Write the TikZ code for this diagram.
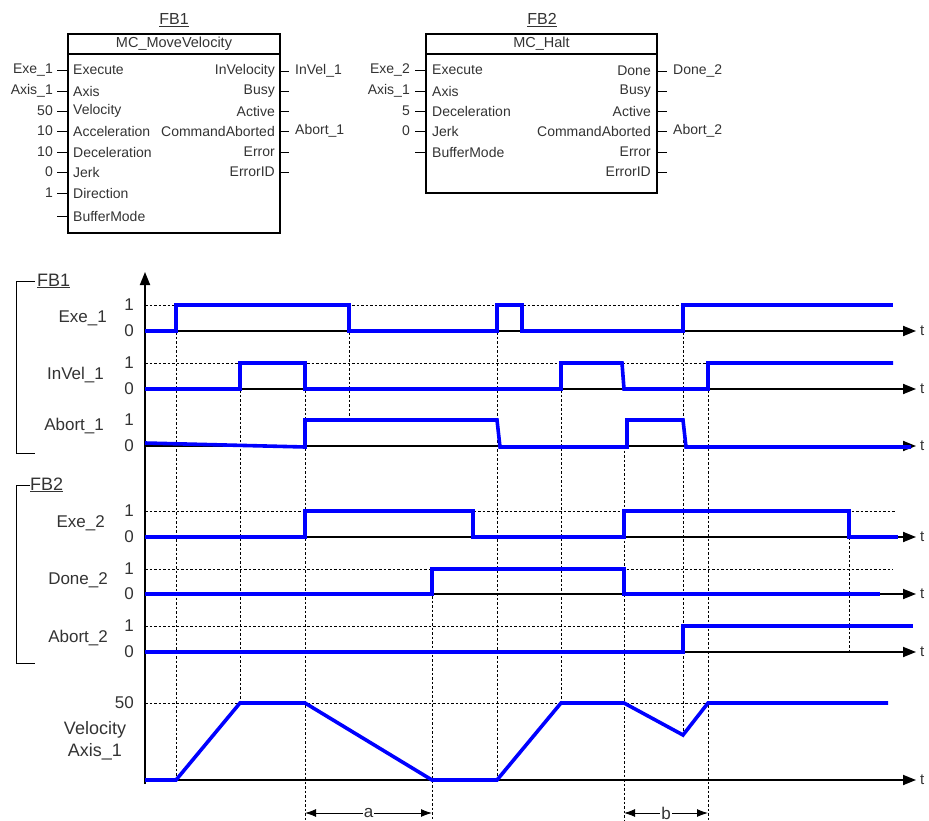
\documentclass[tikz,border=0pt]{standalone}
\usepackage{fontspec}
\setmainfont{Liberation Sans}
\usetikzlibrary{arrows.meta}

\begin{document}
\begin{tikzpicture}[x=1pt, y=-1pt,
  sig/.style={blue, line width=3.6pt, line join=miter},
  ax/.style={line width=1.8pt, -{Triangle[length=13pt,width=10pt]}},
  guide/.style={dash pattern=on 2.5pt off 2pt, line width=0.8pt},
  lbl/.style={font=\fontsize{17}{19}\selectfont, text=black!80, inner sep=0pt},
  pin/.style={font=\fontsize{14}{16}\selectfont, text=black!80, inner sep=0pt},
  fbox/.style={draw, line width=1.8pt, inner sep=0pt},
  span/.style={line width=1pt, {Latex[length=11pt,width=8pt]}-{Latex[length=11pt,width=8pt]}}
]
\useasboundingbox (0,0) rectangle (929,821);

% function blocks
\node[lbl, font=\fontsize{16}{18}\selectfont] (t1) at (174,20) {\underline{FB1}};
\node[fbox, minimum width=212pt, minimum height=199pt] (mv) at (174,133.5) {};
\draw[line width=1.8pt] ([yshift=-21pt]mv.north west) -- ([yshift=-21pt]mv.north east);
\node[pin, font=\fontsize{14.5}{16}\selectfont] (mvh) at ([yshift=-11pt]mv.north) {MC\_MoveVelocity};

\foreach \txt/\val/\y/\n in {Execute/Exe\_1/70/1, Axis/Axis\_1/91/2, Velocity/50/111/3,
    Acceleration/10/131/4, Deceleration/10/152/5, Jerk/0/172/6, Direction/1/193/7} {
  \draw (57,\y) -- (68,\y);
  \node[pin, anchor=west] (mvi\n) at (73,\y) {\txt};
  \node[pin, anchor=east] (mvv\n) at (53,\y) {\val};
}
\draw (57,216) -- (68,216);
\node[pin, anchor=west] (mvi8) at (73,216) {BufferMode};

\foreach \txt/\y/\n in {InVelocity/71/1, Busy/91/2, Active/111/3, CommandAborted/131/4,
    Error/152/5, ErrorID/172/6} {
  \draw (280,\y) -- (289,\y);
  \node[pin, anchor=east] (mvo\n) at (275,\y) {\txt};
}
\node[pin, anchor=west] (mvq1) at (295,71) {InVel\_1};
\node[pin, anchor=west] (mvq4) at (295,131) {Abort\_1};

\node[lbl, font=\fontsize{16}{18}\selectfont] (t2) at (542,20) {\underline{FB2}};
\node[fbox, minimum width=231pt, minimum height=159pt] (ht) at (541.5,113.5) {};
\draw[line width=1.8pt] ([yshift=-21pt]ht.north west) -- ([yshift=-21pt]ht.north east);
\node[pin, font=\fontsize{14.5}{16}\selectfont] (hth) at ([yshift=-11pt]ht.north) {MC\_Halt};

\foreach \txt/\val/\y/\n in {Execute/Exe\_2/70/1, Axis/Axis\_1/91/2, Deceleration/5/111/3, Jerk/0/131/4} {
  \draw (415,\y) -- (426,\y);
  \node[pin, anchor=west] (hti\n) at (432,\y) {\txt};
  \node[pin, anchor=east] (htv\n) at (410,\y) {\val};
}
\draw (415,152) -- (426,152);
\node[pin, anchor=west] (hti5) at (432,152) {BufferMode};

\foreach \txt/\y/\n in {Done/71/1, Busy/91/2, Active/111/3, CommandAborted/131/4,
    Error/152/5, ErrorID/172/6} {
  \draw (657,\y) -- (667,\y);
  \node[pin, anchor=east] (hto\n) at (651,\y) {\txt};
}
\node[pin, anchor=west] (htq1) at (673,71) {Done\_2};
\node[pin, anchor=west] (htq4) at (673,131) {Abort\_2};

% guide lines
\draw[guide] (145,305) -- (683,305) (145,363) -- (708,363) (145,511) -- (895,511)
  (145,569) -- (893,569) (145,626) -- (683,626) (145,703) -- (708,703);
\draw[guide] (176,305) -- (176,780) (240,363) -- (240,703) (305,363) -- (305,821)
  (349,305) -- (349,420) (432,569) -- (432,821) (497,305) -- (497,780)
  (561,363) -- (561,703) (624,446) -- (624,821) (683,305) -- (683,737)
  (708,363) -- (708,821) (849,537) -- (849,652);

% axes
\draw[ax] (145,784) -- (145,272);
\foreach \y in {331,389,446,537,594,652,780} {
  \draw[ax] (145,\y) -- (916,\y);
  \node[lbl, anchor=west, font=\fontsize{15}{17}\selectfont] (t\y) at (920,\y) {t};
}

% signals
\draw[sig] (145,331) -- (176,331) -- (176,305) -- (349,305) -- (349,331) -- (497,331) -- (497,305)
  -- (522,305) -- (522,331) -- (683,331) -- (683,305) -- (893,305);
\draw[sig] (145,389) -- (240,389) -- (240,363) -- (305,363) -- (305,389) -- (561,389) -- (561,363)
  -- (622,363) -- (624,389) -- (708,389) -- (708,363) -- (893,363);
\draw[sig] (145,443) -- (305,447) -- (305,420) -- (497,420) -- (500,447) -- (627,447) -- (627,420)
  -- (683,420) -- (686,447) -- (911,447);
\draw[sig] (145,537) -- (305,537) -- (305,511) -- (473,511) -- (473,537) -- (624,537) -- (624,511)
  -- (849,511) -- (849,537) -- (898,537);
\draw[sig] (145,594) -- (432,594) -- (432,569) -- (624,569) -- (624,594) -- (880,594);
\draw[sig] (145,652) -- (683,652) -- (683,626) -- (913,626);
\draw[sig] (145,780) -- (176,780) -- (240,703) -- (305,703) -- (432,780) -- (497,780) -- (561,703)
  -- (624,703) -- (683,735) -- (708,703) -- (888,703);

% row labels
\draw (35,281) -- (16,281) -- (16,453) -- (35,453);
\node[lbl, anchor=west, font=\fontsize{18}{20}\selectfont] (g1) at (37,281) {\underline{FB1}};
\draw (30,485) -- (16,485) -- (16,663) -- (35,663);
\node[lbl, anchor=west, font=\fontsize{18}{20}\selectfont] (g2) at (30,485) {\underline{FB2}};

\node[lbl, anchor=east] (r1) at (107,318) {Exe\_1};
\node[lbl, anchor=east] (r2) at (104,375) {InVel\_1};
\node[lbl, anchor=east] (r3) at (104,426) {Abort\_1};
\node[lbl, anchor=east] (r4) at (105,523) {Exe\_2};
\node[lbl, anchor=east] (r5) at (108,580) {Done\_2};
\node[lbl, anchor=east] (r6) at (108,638) {Abort\_2};
\node[lbl, align=center, font=\fontsize{18}{22}\selectfont] (r7) at (95,741) {Velocity\\Axis\_1};

\foreach \y/\n in {305/a1,363/b1,420/c1,511/d1,569/e1,626/f1} {
  \node[lbl] (l\n) at (129,\y) {1};
}
\foreach \y/\n in {331/a0,389/b0,446/c0,537/d0,594/e0,652/f0} {
  \node[lbl] (l\n) at (129,\y) {0};
}
\node[lbl, anchor=east] (l50) at (134,703) {50};

% durations
\draw[span] (305,813) -- node[lbl, fill=white, inner sep=1pt] (da) {a} (432,813);
\draw[span] (624,813) -- node[lbl, fill=white, inner sep=1pt] (db) {b} (708,813);
\end{tikzpicture}
\end{document}
